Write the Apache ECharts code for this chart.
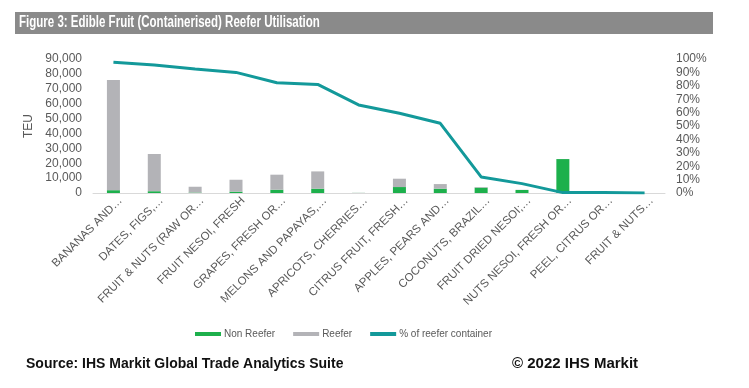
<!DOCTYPE html>
<html><head><meta charset="utf-8">
<script src="https://cdn.jsdelivr.net/npm/echarts@6/dist/echarts.min.js"></script>
<style>html,body{margin:0;padding:0;background:#fff}#c{width:749px;height:388px}</style>
</head><body><div id="c"></div>
<script>
var categories = ["BANANAS AND…","DATES, FIGS,…","FRUIT & NUTS (RAW OR…","FRUIT NESOI, FRESH","GRAPES, FRESH OR…","MELONS AND PAPAYAS,…","APRICOTS, CHERRIES…","CITRUS FRUIT, FRESH…","APPLES, PEARS AND…","COCONUTS, BRAZIL…","FRUIT DRIED NESOI;…","NUTS NESOI, FRESH OR…","PEEL, CITRUS OR…","FRUIT & NUTS…"];
var nonReefer = [1900, 1200, 300, 900, 2200, 2900, 50, 4000, 2900, 3600, 2000, 22800, 40, 20];
var reefer = [74000, 25000, 3900, 8000, 10100, 11600, 100, 5600, 3100, 400, 150, 50, 1, 0];
var pctReefer = [97.5, 95.5, 92.5, 90, 82.3, 81, 65.7, 59.5, 52, 12, 7, 0.3, 0.3, 0];
var leftTicks = [0, 90000, 10000];
var rightTicks = [0, 100, 10];

var chart = echarts.init(document.getElementById('c'), null, {renderer: 'canvas'});
var axisFont = {color: '#595959', fontFamily: 'Liberation Sans, Arial, sans-serif'};
chart.setOption({
  animation: false,
  graphic: [
    {type: 'rect', shape: {x: 15, y: 12, width: 698, height: 22}, style: {fill: '#8a8a8a'}},
    {type: 'text', x: 19, y: 23, scaleX: 0.72, style: {text: 'Figure 3: Edible Fruit (Containerised) Reefer Utilisation', fill: '#ffffff', font: 'bold 16px "Liberation Sans", Arial, sans-serif', verticalAlign: 'middle'}},
    {type: 'text', x: 26, y: 364, style: {text: 'Source: IHS Markit Global Trade Analytics Suite', fill: '#111', font: 'bold 14px "Liberation Sans", Arial, sans-serif', verticalAlign: 'middle'}},
    {type: 'text', x: 512, y: 364, style: {text: '© 2022 IHS Markit', fill: '#111', font: 'bold 15px "Liberation Sans", Arial, sans-serif', verticalAlign: 'middle'}}
  ],
  legend: {
    left: 190, top: 324, itemGap: 18, itemWidth: 26, itemHeight: 4,
    textStyle: {color: '#595959', fontSize: 10, fontFamily: 'Liberation Sans, Arial, sans-serif', padding: [0,0,0,-2]},
    data: [{name: 'Non Reefer', icon: 'rect'}, {name: 'Reefer', icon: 'rect'}, {name: '% of reefer container', icon: 'rect'}]
  },
  grid: {left: 93, right: 84, top: 59, bottom: 195, containLabel: false},
  xAxis: {
    type: 'category', data: categories,
    axisLine: {lineStyle: {color: '#d9d9d9'}}, axisTick: {show: false},
    axisLabel: Object.assign({rotate: 45, fontSize: 11.5, interval: 0, margin: 13, padding: [0, -10, 0, 0]}, axisFont)
  },
  yAxis: [
    {type: 'value', min: leftTicks[0], max: leftTicks[1], interval: leftTicks[2],
     name: 'TEU', nameLocation: 'middle', nameRotate: 90, nameGap: 51,
     nameTextStyle: Object.assign({fontSize: 12}, axisFont),
     axisLine: {show: false}, axisTick: {show: false}, splitLine: {show: false},
     axisLabel: Object.assign({fontSize: 12, margin: 11, formatter: function(v){return v.toLocaleString('en-US');}}, axisFont)},
    {type: 'value', min: rightTicks[0], max: rightTicks[1], interval: rightTicks[2], position: 'right',
     axisLine: {show: false}, axisTick: {show: false}, splitLine: {show: false},
     axisLabel: Object.assign({fontSize: 12, margin: 11, formatter: '{value}%'}, axisFont)}
  ],
  series: [
    {name: 'Non Reefer', type: 'bar', stack: 't', data: nonReefer, barWidth: 13, itemStyle: {color: '#1db04c'}},
    {name: 'Reefer', type: 'bar', stack: 't', data: reefer, barWidth: 13, itemStyle: {color: '#b3b3b7'}},
    {name: '% of reefer container', type: 'line', yAxisIndex: 1, data: pctReefer, symbol: 'none',
     lineStyle: {color: '#13999a', width: 3}, itemStyle: {color: '#13999a'}}
  ]
});
</script></body></html>
